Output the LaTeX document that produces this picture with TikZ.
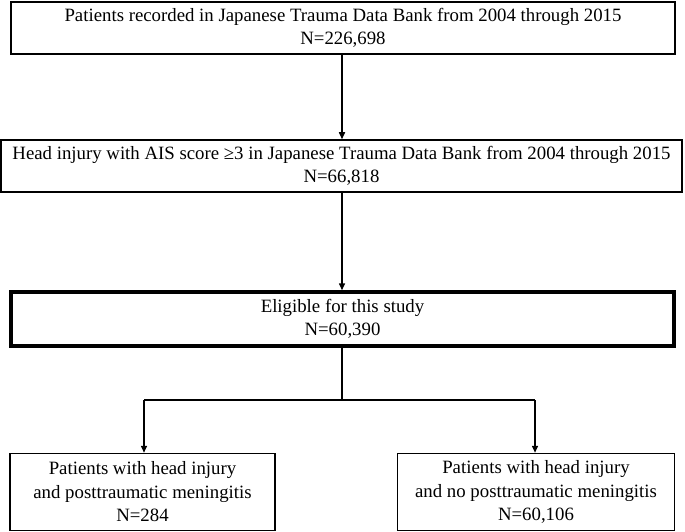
\documentclass[tikz,border=0pt]{standalone}
\usepackage{fontspec}
\setmainfont{Liberation Serif}
\usetikzlibrary{arrows.meta}
\begin{document}
\begin{tikzpicture}[x=1bp,y=-1bp,
  box/.style={draw=black, line width=1.5bp, inner sep=0pt, align=center,
    font=\fontsize{18.8bp}{23.5bp}\selectfont},
  thickbox/.style={box, line width=3.5bp},
  arr/.style={line width=1.5bp, -{Triangle[length=7bp,width=6bp]}},
  ln/.style={line width=1.5bp}]
\useasboundingbox (0,0) rectangle (685,532);
\node[box, minimum width=664bp, minimum height=52bp] (b1) at (343,28)
  {Patients recorded in Japanese Trauma Data Bank from 2004 through 2015\\N=226,698};
\node[box, minimum width=681bp, minimum height=52bp] (b2) at (341.5,166)
  {Head injury with AIS score ≥3 in Japanese Trauma Data Bank from 2004 through 2015\\N=66,818};
\node[thickbox, minimum width=663bp, minimum height=54bp] (b3) at (342.5,319)
  {Eligible for this study\\N=60,390};
\node[box, minimum width=265bp, minimum height=77bp] (b4) at (142.5,492)
  {Patients with head injury\\and posttraumatic meningitis\\N=284};
\node[box, minimum width=277bp, minimum height=77bp] (b5) at (536,492)
  {Patients with head injury\\and no posttraumatic meningitis\\N=60,106};
\coordinate (j) at (342,400);
\coordinate (jl) at (144,400);
\coordinate (jr) at (535,400);
\draw[arr] (b1.south -| j) -- (b2.north -| j);
\draw[arr] (b2.south -| j) -- (b3.north -| j);
\draw[ln] (b3.south -| j) -- (j);
\draw[ln] (jl) -- (jr);
\draw[arr] (jl) -- (jl |- b4.north);
\draw[arr] (jr) -- (jr |- b5.north);
\end{tikzpicture}
\end{document}
